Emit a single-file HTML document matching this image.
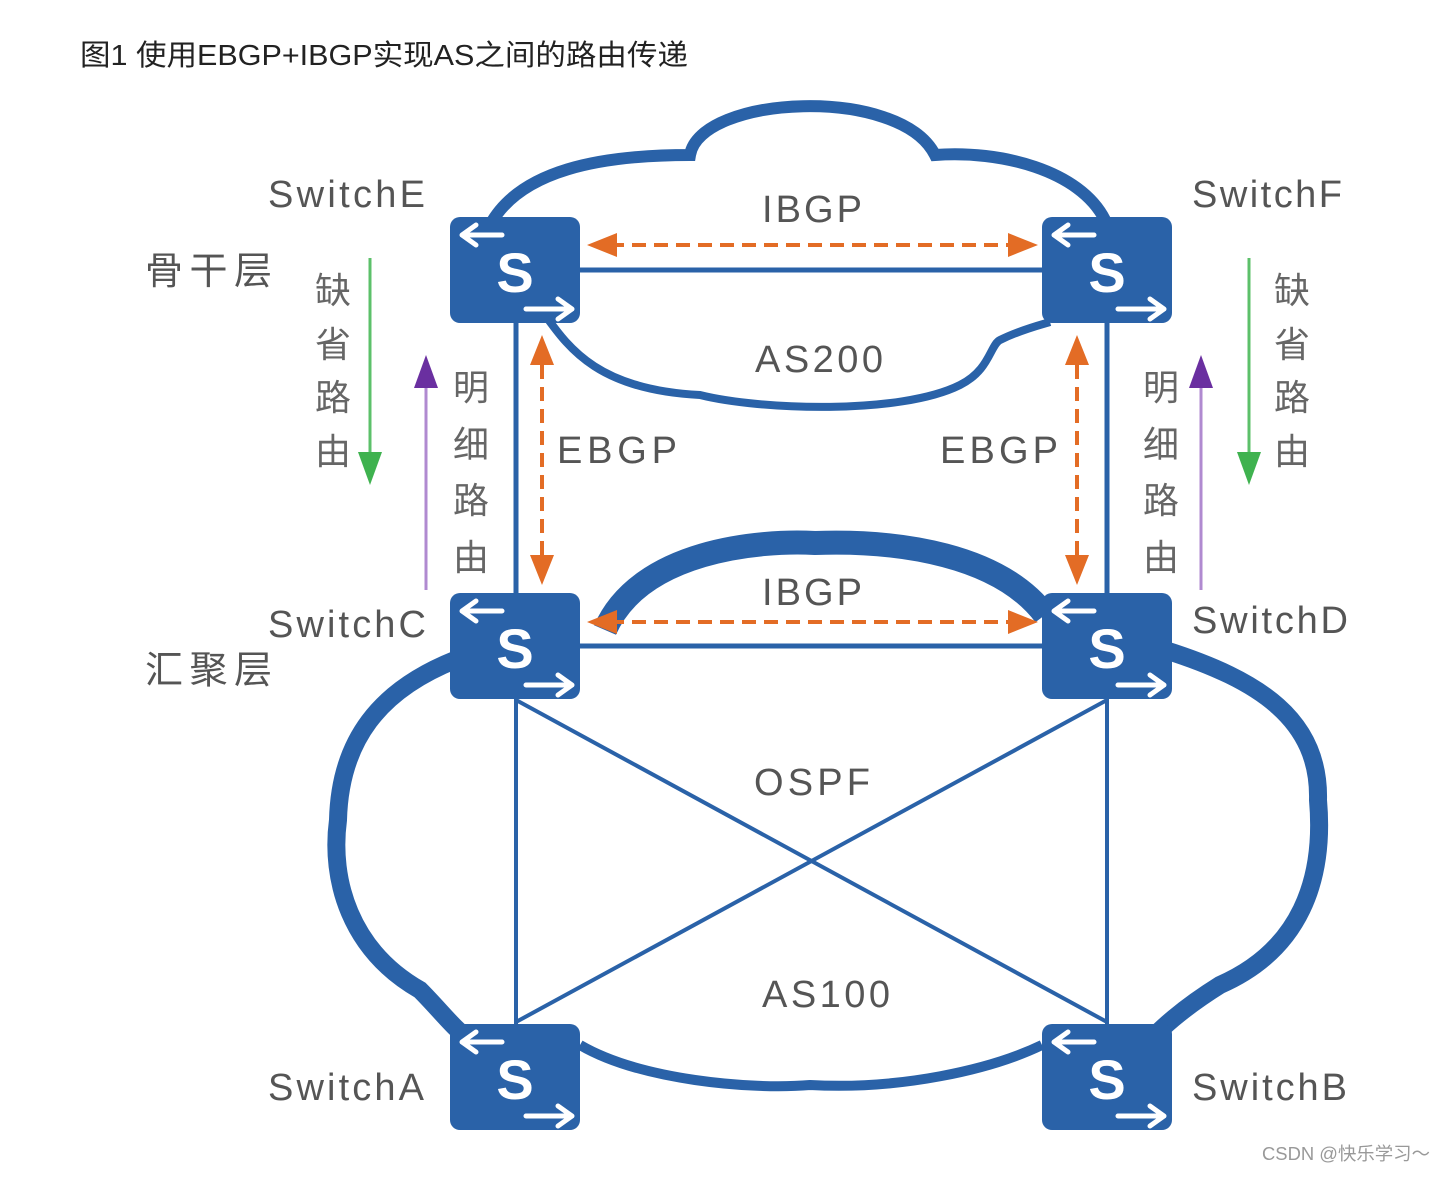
<!DOCTYPE html>
<html><head><meta charset="utf-8"><style>
body{margin:0;background:#fff;}
svg text{font-family:"Liberation Sans","Noto Sans CJK SC",sans-serif;}
</style></head><body>
<svg width="1444" height="1172" viewBox="0 0 1444 1172" xmlns="http://www.w3.org/2000/svg">
<defs>
<g id="sw">
<rect x="0" y="0" width="130" height="106" rx="10" fill="#2a62a8"/>
<text x="65" y="75" font-size="56" fill="#fff" text-anchor="middle" font-weight="bold">S</text>
<path d="M52,18 L14,18 M26,8 L12,18 L26,28" stroke="#fff" stroke-width="5" fill="none" stroke-linecap="round" stroke-linejoin="round"/>
<path d="M76,92 L122,92 M108,82 L122,92 L108,102" stroke="#fff" stroke-width="5" fill="none" stroke-linecap="round" stroke-linejoin="round"/>
</g>
</defs>
<text x="80" y="65" font-size="29" fill="#222" textLength="608" lengthAdjust="spacingAndGlyphs">图1 使用EBGP+IBGP实现AS之间的路由传递</text>
<g fill="none" stroke="#2a62a8">
<path d="M490,225 C520,170 600,155 690,155 C700,95 900,85 935,155 C1000,150 1080,170 1105,220" stroke-width="12"/>
<path d="M545,315 C570,350 600,390 700,395 C760,410 900,415 960,385 C990,370 990,345 1000,340 C1020,330 1040,325 1050,322" stroke-width="8"/>
<line x1="580" y1="270" x2="1042" y2="270" stroke-width="5"/>
<line x1="580" y1="646" x2="1042" y2="646" stroke-width="5"/>
<line x1="516" y1="322" x2="516" y2="595" stroke-width="5"/>
<line x1="1107" y1="322" x2="1107" y2="595" stroke-width="5"/>
<line x1="516" y1="698" x2="516" y2="1025" stroke-width="4"/>
<line x1="1107" y1="698" x2="1107" y2="1025" stroke-width="4"/>
<line x1="516" y1="700" x2="1107" y2="1022" stroke-width="4"/>
<line x1="1107" y1="700" x2="516" y2="1022" stroke-width="4"/>
<path d="M455,660 C380,690 340,740 338,820 C330,880 350,950 420,990 C440,1010 455,1030 470,1040" stroke-width="18"/>
<path d="M1165,650 C1260,680 1320,720 1318,800 C1325,880 1300,950 1220,985 C1180,1010 1160,1030 1150,1040" stroke-width="18"/>
<path d="M580,1045 C640,1080 750,1090 810,1085 C900,1090 990,1070 1042,1045" stroke-width="10"/>
<path d="M605,630 C640,550 760,540 815,543 C900,540 1000,555 1045,615" stroke-width="24"/>
</g>
<use href="#sw" x="450" y="217"/>
<use href="#sw" x="1042" y="217"/>
<use href="#sw" x="450" y="593"/>
<use href="#sw" x="1042" y="593"/>
<use href="#sw" x="450" y="1024"/>
<use href="#sw" x="1042" y="1024"/>
<g stroke="#e36c25" stroke-width="4" stroke-dasharray="14,8" fill="none">
<line x1="610" y1="245" x2="1015" y2="245"/>
<line x1="610" y1="622" x2="1015" y2="622"/>
<line x1="542" y1="365" x2="542" y2="560"/>
<line x1="1077" y1="365" x2="1077" y2="560"/>
</g>
<g fill="#e36c25">
<path d="M587,245 L617,233 L617,257Z"/><path d="M1038,245 L1008,233 L1008,257Z"/>
<path d="M587,622 L617,610 L617,634Z"/><path d="M1038,622 L1008,610 L1008,634Z"/>
<path d="M542,335 L530,365 L554,365Z"/><path d="M542,585 L530,555 L554,555Z"/>
<path d="M1077,335 L1065,365 L1089,365Z"/><path d="M1077,585 L1065,555 L1089,555Z"/>
</g>
<line x1="370" y1="258" x2="370" y2="460" stroke="#5cc06a" stroke-width="3"/>
<path d="M358,452 L382,452 L370,485Z" fill="#3fb24f"/>
<line x1="1249" y1="258" x2="1249" y2="460" stroke="#5cc06a" stroke-width="3"/>
<path d="M1237,452 L1261,452 L1249,485Z" fill="#3fb24f"/>
<line x1="426" y1="385" x2="426" y2="590" stroke="#b08ad0" stroke-width="3"/>
<path d="M414,388 L438,388 L426,355Z" fill="#6a2fa0"/>
<line x1="1201" y1="385" x2="1201" y2="590" stroke="#b08ad0" stroke-width="3"/>
<path d="M1189,388 L1213,388 L1201,355Z" fill="#6a2fa0"/>
<g fill="#555" font-size="38" lengthAdjust="spacingAndGlyphs">
<text x="268" y="207" textLength="157">SwitchE</text>
<text x="1192" y="207" textLength="150">SwitchF</text>
<text x="268" y="637" textLength="158">SwitchC</text>
<text x="1192" y="633" textLength="156">SwitchD</text>
<text x="268" y="1100" textLength="156">SwitchA</text>
<text x="1192" y="1100" textLength="155">SwitchB</text>
<text x="762" y="222" textLength="100">IBGP</text>
<text x="762" y="605" textLength="100">IBGP</text>
<text x="755" y="372" textLength="128">AS200</text>
<text x="557" y="463" textLength="120">EBGP</text>
<text x="940" y="463" textLength="118">EBGP</text>
<text x="754" y="795" textLength="116">OSPF</text>
<text x="762" y="1007" textLength="128">AS100</text>
<text x="145" y="284" textLength="127">骨干层</text>
<text x="145" y="683" textLength="127">汇聚层</text>
</g>
<g fill="#666" font-size="36" text-anchor="middle">
<text x="333" y="303">缺</text><text x="333" y="357">省</text><text x="333" y="410">路</text><text x="333" y="464">由</text>
<text x="1292" y="303">缺</text><text x="1292" y="357">省</text><text x="1292" y="410">路</text><text x="1292" y="464">由</text>
<text x="471" y="400">明</text><text x="471" y="457">细</text><text x="471" y="513">路</text><text x="471" y="570">由</text>
<text x="1161" y="400">明</text><text x="1161" y="457">细</text><text x="1161" y="513">路</text><text x="1161" y="570">由</text>
</g>
<text x="1262" y="1160" font-size="18" fill="#999" textLength="168" lengthAdjust="spacingAndGlyphs">CSDN @快乐学习～</text>
</svg>
</body></html>
